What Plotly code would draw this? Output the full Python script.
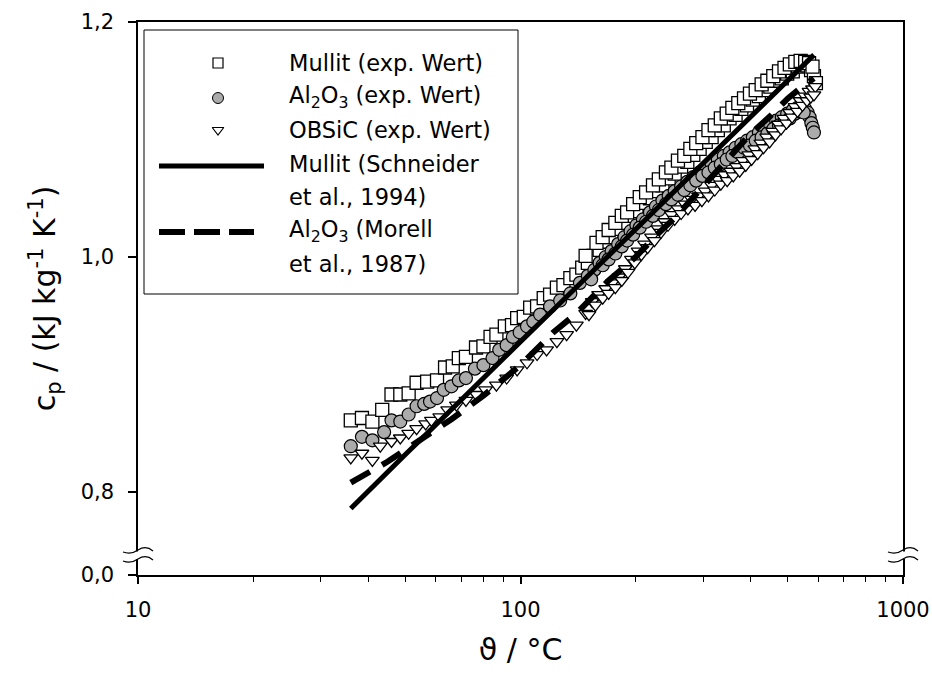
import plotly.graph_objects as go

# ---------------- data ----------------
mullit_T = [36, 38.5, 41, 43.5, 46, 48.5, 51, 53.5, 57, 60.5,
            63.5, 66.5, 69, 72, 76.5, 80, 83.5, 86.5, 91, 95,
            98, 102, 106, 110.5, 115, 119.5, 124.5, 129.5, 135, 140,
            145, 150, 155, 161, 167, 173, 180, 187, 194, 201,
            209, 218, 226, 235, 244, 253, 263, 273, 283, 294,
            305, 316, 328, 340, 352, 365, 378, 391, 405, 420,
            435, 450, 466, 482, 498, 515, 532, 548, 562, 575,
            585, 592]
mullit_cp = [0.861, 0.863, 0.860, 0.870, 0.883, 0.883, 0.884, 0.893, 0.894, 0.895,
             0.906, 0.907, 0.914, 0.915, 0.923, 0.924, 0.932, 0.934, 0.941, 0.942,
             0.948, 0.949, 0.957, 0.958, 0.965, 0.968, 0.974, 0.976, 0.982, 0.985,
             0.991, 0.995, 1.001, 1.006, 1.013, 1.017, 1.024, 1.029, 1.035, 1.039,
             1.046, 1.050, 1.056, 1.061, 1.067, 1.071, 1.077, 1.081, 1.087, 1.092,
             1.098, 1.102, 1.108, 1.112, 1.118, 1.121, 1.126, 1.129, 1.134, 1.137,
             1.142, 1.145, 1.150, 1.152, 1.156, 1.158, 1.162, 1.164, 1.163, 1.159,
             1.154, 1.148]
# second (upper) row of scattered Mullit points at high temperature
mullit_T_b = [148, 158, 164, 170, 177, 184, 190, 197, 205, 213,
              222, 230, 240, 248, 258, 268, 278, 288, 299, 310,
              322, 334, 346, 358, 371, 384, 398, 412, 427, 442,
              458, 474, 490, 506, 523, 540, 555, 568, 580]
mullit_cp_b = [1.001, 1.012, 1.017, 1.023, 1.029, 1.035, 1.038, 1.045, 1.051, 1.055,
               1.061, 1.066, 1.072, 1.076, 1.082, 1.086, 1.092, 1.097, 1.102, 1.108,
               1.112, 1.118, 1.122, 1.127, 1.131, 1.135, 1.139, 1.142, 1.147, 1.150,
               1.154, 1.158, 1.161, 1.164, 1.166, 1.167, 1.166, 1.165, 1.162]

al2o3_T = [36, 38.5, 41, 44, 46, 48.5, 51, 53.5, 56, 58,
           60.5, 63, 66, 69, 72, 76, 80, 84.5, 88, 92,
           95.5, 99.5, 104, 108, 112.5, 119.5, 127, 135, 143, 150,
           156, 161, 167, 173, 180, 187, 194, 201, 209, 218,
           226, 235, 244, 253, 263, 273, 283, 294, 305, 316,
           328, 340, 352, 365, 378, 391, 405, 420, 435, 450,
           466, 482, 498, 515, 530, 545, 555, 563, 570, 576,
           581, 585]
al2o3_cp = [0.839, 0.847, 0.844, 0.851, 0.861, 0.860, 0.866, 0.873, 0.875, 0.877,
            0.880, 0.887, 0.890, 0.895, 0.897, 0.905, 0.908, 0.914, 0.921, 0.925,
            0.932, 0.936, 0.941, 0.945, 0.951, 0.958, 0.963, 0.969, 0.978, 0.984,
            0.989, 0.995, 1.000, 1.005, 1.011, 1.017, 1.022, 1.027, 1.032, 1.038,
            1.043, 1.048, 1.052, 1.056, 1.060, 1.064, 1.068, 1.072, 1.076, 1.079,
            1.083, 1.086, 1.089, 1.093, 1.096, 1.099, 1.102, 1.106, 1.109, 1.112,
            1.116, 1.119, 1.122, 1.125, 1.127, 1.128, 1.126, 1.123, 1.119, 1.114,
            1.110, 1.106]
al2o3_T_b = [153, 164, 170, 177, 184, 190, 197, 205, 213, 222,
             230, 240, 248, 258, 268, 278, 288, 299, 310, 322,
             334, 346, 358, 371, 384, 398, 412, 427, 442, 458,
             474, 490, 506, 522, 537, 550]
al2o3_cp_b = [0.981, 0.993, 0.998, 1.003, 1.009, 1.014, 1.019, 1.025, 1.030, 1.035,
              1.040, 1.045, 1.049, 1.053, 1.057, 1.061, 1.065, 1.069, 1.072, 1.076,
              1.079, 1.083, 1.086, 1.089, 1.093, 1.095, 1.099, 1.102, 1.105, 1.109,
              1.112, 1.115, 1.118, 1.122, 1.124, 1.123]

obsic_T = [36, 38.5, 41, 43, 46, 48.5, 51, 53.5, 56.5, 58.5,
           61.5, 64.5, 68, 72, 76.5, 81, 86.5, 92, 98, 104,
           110.5, 117, 124.5, 132, 140, 148, 154, 160, 167, 174,
           181, 188, 195, 203, 211, 220, 229, 238, 248, 258,
           269, 280, 292, 304, 316, 328, 341, 354, 367, 381,
           395, 410, 425, 440, 456, 472, 488, 505, 522, 538,
           554, 568, 580, 590]
obsic_cp = [0.829, 0.833, 0.827, 0.839, 0.843, 0.846, 0.850, 0.854, 0.858, 0.861,
            0.864, 0.870, 0.874, 0.878, 0.883, 0.887, 0.891, 0.897, 0.904, 0.910,
            0.917, 0.921, 0.928, 0.934, 0.942, 0.952, 0.962, 0.968, 0.973, 0.978,
            0.983, 0.990, 0.998, 1.005, 1.011, 1.017, 1.024, 1.030, 1.036, 1.041,
            1.045, 1.049, 1.052, 1.056, 1.061, 1.066, 1.070, 1.073, 1.077, 1.082,
            1.087, 1.092, 1.097, 1.102, 1.107, 1.113, 1.118, 1.123, 1.128, 1.133,
            1.137, 1.141, 1.143, 1.145]
obsic_T_b = [151, 157, 164, 170, 177, 184, 191, 199, 207, 215,
             224, 233, 243, 253, 263, 274, 286, 298, 310, 322,
             334, 347, 360, 374, 388, 402, 417, 432, 448, 464,
             480, 496, 513, 530, 546, 561, 574, 585]
obsic_cp_b = [0.951, 0.959, 0.965, 0.969, 0.974, 0.980, 0.987, 0.995, 1.002, 1.008,
              1.014, 1.021, 1.027, 1.032, 1.037, 1.041, 1.044, 1.048, 1.052, 1.057,
              1.062, 1.065, 1.069, 1.073, 1.078, 1.083, 1.088, 1.093, 1.098, 1.104,
              1.109, 1.114, 1.119, 1.124, 1.129, 1.133, 1.136, 1.138]

schneider_T = [36, 40, 45, 50, 60, 70, 80, 100, 120, 150, 200, 250, 300, 350, 400, 450, 500, 550, 585]
schneider_cp = [0.786, 0.801, 0.818, 0.832, 0.857, 0.878, 0.897, 0.928, 0.953, 0.984,
                1.024, 1.055, 1.080, 1.101, 1.120, 1.136, 1.151, 1.164, 1.172]

morell_T = [36, 45, 55, 66, 80, 100, 122, 140, 170, 200, 229, 256, 300, 350, 400, 450, 500, 550, 585]
morell_cp = [0.808, 0.826, 0.845, 0.862, 0.882, 0.908, 0.936, 0.952, 0.980, 1.000,
             1.020, 1.035, 1.060, 1.085, 1.105, 1.120, 1.135, 1.146, 1.152]

x_tickvals = [10, 100, 1000]
x_ticktext = ["10", "100", "1000"]
x_minor = [20, 30, 40, 50, 60, 70, 80, 90, 200, 300, 400, 500, 600, 700, 800, 900]
y_break = 0.7294          # position representing 0,0 below the axis break
y_tickvals = [y_break, 0.8, 1.0, 1.2]
y_ticktext = ["0,0", "0,8", "1,0", "1,2"]

legend_labels = ["Mullit (exp. Wert)", "Al<sub>2</sub>O<sub>3</sub> (exp. Wert)",
                 "OBSiC (exp. Wert)", "Mullit (Schneider", "et al., 1994)",
                 "Al<sub>2</sub>O<sub>3</sub> (Morell", "et al., 1987)"]

# ---------------- layout geometry (pixels) ----------------
W, H = 932, 679
L, R, T, B = 138, 903, 22, 575
FONT = "DejaVu Sans, Arial, sans-serif"
GRAY = "#ababab"


def px(xp):
    return (xp - L) / (R - L)


def py(yp):
    return (B - yp) / (B - T)


fig = go.Figure()

sq = dict(symbol="square", size=13, color="white", line=dict(color="black", width=1.3))
ci = dict(symbol="circle", size=13, color=GRAY, line=dict(color="black", width=1.2))
tr = dict(symbol="triangle-down", size=12, color="white", line=dict(color="black", width=1.3))

fig.add_trace(go.Scatter(x=mullit_T + mullit_T_b, y=mullit_cp + mullit_cp_b,
                         mode="markers", marker=sq))
fig.add_trace(go.Scatter(x=al2o3_T + al2o3_T_b, y=al2o3_cp + al2o3_cp_b,
                         mode="markers", marker=ci))
fig.add_trace(go.Scatter(x=obsic_T + obsic_T_b, y=obsic_cp + obsic_cp_b,
                         mode="markers", marker=tr))
fig.add_trace(go.Scatter(x=morell_T, y=morell_cp, mode="lines",
                         line=dict(color="black", width=6, dash="22px,14px")))
fig.add_trace(go.Scatter(x=schneider_T, y=schneider_cp, mode="lines",
                         line=dict(color="black", width=5)))

# legend markers on an overlay axis measured in pixels
fig.add_trace(go.Scatter(x=[218], y=[63], mode="markers", xaxis="x2", yaxis="y2",
                         marker=dict(symbol="square", size=10, color="white",
                                     line=dict(color="black", width=1.2))))
fig.add_trace(go.Scatter(x=[218], y=[98], mode="markers", xaxis="x2", yaxis="y2",
                         marker=dict(symbol="circle", size=11, color=GRAY,
                                     line=dict(color="black", width=1.0))))
fig.add_trace(go.Scatter(x=[218], y=[130], mode="markers", xaxis="x2", yaxis="y2",
                         marker=dict(symbol="triangle-down", size=10, color="white",
                                     line=dict(color="black", width=1.2))))

shapes = []
# legend box
shapes.append(dict(type="rect", xref="paper", yref="paper", x0=px(144), x1=px(518),
                   y0=py(294), y1=py(30), line=dict(color="black", width=1), fillcolor="white",
                   layer="below"))
# legend lines
shapes.append(dict(type="line", xref="paper", yref="paper", x0=px(159), x1=px(264),
                   y0=py(166), y1=py(166), line=dict(color="black", width=5)))
for a, b in [(159, 185), (194, 220), (229, 254)]:
    shapes.append(dict(type="line", xref="paper", yref="paper", x0=px(a), x1=px(b),
                       y0=py(232), y1=py(232), line=dict(color="black", width=6)))


def tilde(xc, yc):
    x0, x1 = xc - 15, xc + 15
    return ("M {:.5f},{:.5f} Q {:.5f},{:.5f} {:.5f},{:.5f} Q {:.5f},{:.5f} {:.5f},{:.5f}".format(
        px(x0), py(yc + 1), px(xc - 7), py(yc + 4), px(xc), py(yc - 1),
        px(xc + 8), py(yc - 6), px(x1), py(yc)))


for xc in (L, R):
    shapes.append(dict(type="rect", xref="paper", yref="paper", x0=px(xc - 4), x1=px(xc + 4),
                       y0=py(559), y1=py(551.5), fillcolor="white", line=dict(width=0)))
    for yc in (551, 560):
        shapes.append(dict(type="path", xref="paper", yref="paper", path=tilde(xc, yc),
                           line=dict(color="black", width=1.2)))

annotations = []
rows = [63, 97, 130, 164, 197, 231, 264]
for lab, yy in zip(legend_labels, rows):
    annotations.append(dict(text=lab, xref="paper", yref="paper", x=px(287), y=py(yy),
                            xanchor="left", yanchor="middle", showarrow=False,
                            font=dict(family=FONT, size=22.5, color="black")))

axis_common = dict(showline=True, linecolor="black", linewidth=1.5, mirror=True,
                   ticks="outside", tickcolor="black", tickwidth=1.5, showgrid=False,
                   zeroline=False, automargin=False,
                   tickfont=dict(family=FONT, size=21, color="black"))

fig.update_layout(
    width=W, height=H,
    margin=dict(l=L, r=W - R, t=T, b=H - B, autoexpand=False),
    paper_bgcolor="white", plot_bgcolor="white",
    showlegend=False,
    font=dict(family=FONT, color="black"),
    xaxis=dict(type="log", range=[1, 3], tickvals=x_tickvals, ticktext=x_ticktext,
               ticklen=7, ticklabelstandoff=8,
               minor=dict(ticks="outside", ticklen=5, tickwidth=1.2, tickcolor="black",
                          tickvals=x_minor, showgrid=False),
               title=dict(text="ϑ / °C", font=dict(family=FONT, size=30), standoff=18),
               **axis_common),
    yaxis=dict(range=[y_break, 1.2], tickvals=y_tickvals, ticktext=y_ticktext,
               ticklen=8, ticklabelstandoff=10,
               title=dict(text="c<sub>p</sub> / (kJ kg<sup>-1</sup> K<sup>-1</sup>)",
                          font=dict(family=FONT, size=30), standoff=16),
               **axis_common),
    xaxis2=dict(range=[L, R], overlaying="x", visible=False),
    yaxis2=dict(range=[B, T], overlaying="y", visible=False),
    shapes=shapes,
    annotations=annotations,
)

fig.write_html("out.html")
